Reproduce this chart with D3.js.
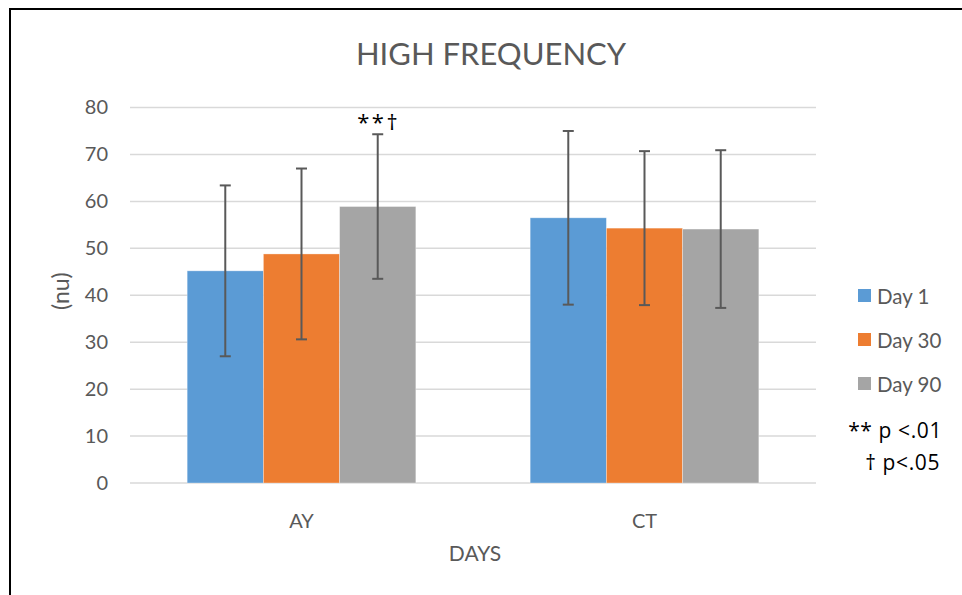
<!DOCTYPE html>
<html>
<head>
<meta charset="utf-8">
<script src="https://cdn.jsdelivr.net/npm/d3@7"></script>
<style>
  body { margin: 0; background: #fff; }
  text { font-family: Lato, "Open Sans", sans-serif; }
</style>
</head>
<body>
<div id="chart"></div>
<script>
const categories = ['AY', 'CT'];
const seriesNames = ['Day 1', 'Day 30', 'Day 90'];
const seriesColors = ['#5b9bd5', '#ed7d31', '#a5a5a5'];
// means per series, by category
const day1 = [45.2, 56.5];
const day30 = [48.8, 54.3];
const day90 = [58.9, 54.1];
// standard deviations (error bars)
const sd1 = [18.2, 18.5];
const sd30 = [18.2, 16.4];
const sd90 = [15.4, 16.8];
const yTicks = [0, 10, 20, 30, 40, 50, 60, 70, 80];

const means = [day1, day30, day90];
const sds = [sd1, sd30, sd90];

const W = 962, H = 595;
const margin = { top: 107.5, right: 146, bottom: 112, left: 130 };
const width = W - margin.left - margin.right;
const height = H - margin.top - margin.bottom;

const svg = d3.select('#chart').append('svg')
  .attr('width', W)
  .attr('height', H);

// outer frame (top and left edges visible)
svg.append('path')
  .attr('d', `M10,${H} L10,9 L${W},9`)
  .attr('fill', 'none')
  .attr('stroke', '#000')
  .attr('stroke-width', 2);

const g = svg.append('g')
  .attr('transform', `translate(${margin.left},${margin.top})`);

const x0 = d3.scaleBand()
  .domain(categories)
  .range([0, width]);

const x1 = d3.scaleBand()
  .domain(seriesNames)
  .range([0, x0.bandwidth() * 2 / 3]);

const y = d3.scaleLinear()
  .domain([0, 80])
  .range([height, 0]);

// gridlines
g.append('g')
  .selectAll('line')
  .data(yTicks)
  .enter()
  .append('line')
  .attr('x1', 0)
  .attr('x2', width)
  .attr('y1', (d) => y(d))
  .attr('y2', (d) => y(d))
  .attr('stroke', '#d9d9d9')
  .attr('stroke-width', 1.5);

// y axis labels
const yAxis = g.append('g')
  .call(d3.axisLeft(y).tickValues(yTicks).tickSize(0).tickPadding(22));
yAxis.select('.domain').remove();
yAxis.selectAll('text')
  .attr('fill', '#595959')
  .style('font-size', '20px')
  .style('font-family', 'Lato, "Open Sans", sans-serif');

// bars
const groups = g.selectAll('.serie')
  .data(seriesNames)
  .enter()
  .append('g')
  .attr('class', 'serie');

groups.selectAll('rect')
  .data((s, i) => categories.map((c, j) => ({ c, s, v: means[i][j], e: sds[i][j], color: seriesColors[i] })))
  .enter()
  .append('rect')
  .attr('x', (d) => x0(d.c) + x0.bandwidth() / 6 + x1(d.s))
  .attr('y', (d) => y(d.v))
  .attr('width', x1.bandwidth())
  .attr('height', (d) => y(0) - y(d.v))
  .attr('fill', (d) => d.color)
  .attr('stroke', '#fff')
  .attr('stroke-opacity', 0.4)
  .attr('stroke-width', 0.8);

// error bars
const errs = [];
seriesNames.forEach((s, i) => {
  categories.forEach((c, j) => {
    errs.push({ cx: x0(c) + x0.bandwidth() / 6 + x1(s) + x1.bandwidth() / 2, lo: means[i][j] - sds[i][j], hi: means[i][j] + sds[i][j] });
  });
});
const eb = g.append('g')
  .attr('stroke', '#595959')
  .attr('stroke-width', 2);
errs.forEach((d) => {
  eb.append('line').attr('x1', d.cx).attr('x2', d.cx).attr('y1', y(d.lo)).attr('y2', y(d.hi));
  eb.append('line').attr('x1', d.cx - 5.5).attr('x2', d.cx + 5.5).attr('y1', y(d.lo)).attr('y2', y(d.lo));
  eb.append('line').attr('x1', d.cx - 5.5).attr('x2', d.cx + 5.5).attr('y1', y(d.hi)).attr('y2', y(d.hi));
});

// significance marker above AY Day 90
const ayGray = errs[2 * categories.length + 0];
g.append('text')
  .attr('x', ayGray.cx + 1)
  .attr('y', y(ayGray.hi) - 4)
  .attr('text-anchor', 'middle')
  .attr('fill', '#000')
  .style('font-family', '"Open Sans", sans-serif')
  .style('font-size', '22px')
  .style('letter-spacing', '2.5px')
  .text('**†');

// category labels
g.selectAll('.cat')
  .data(categories)
  .enter()
  .append('text')
  .attr('x', (d) => x0(d) + x0.bandwidth() / 2)
  .attr('y', height + 45)
  .attr('text-anchor', 'middle')
  .attr('fill', '#595959')
  .style('font-size', '20px')
  .text((d) => d);

// axis titles
svg.append('text')
  .attr('x', margin.left + width / 2 + 2)
  .attr('y', 561)
  .attr('text-anchor', 'middle')
  .attr('fill', '#595959')
  .style('font-size', '21px')
  .text('DAYS');

svg.append('text')
  .attr('transform', `translate(69,${margin.top + height / 2 - 4}) rotate(-90)`)
  .attr('text-anchor', 'middle')
  .attr('fill', '#595959')
  .style('font-size', '23px')
  .text('(nu)');

svg.append('text')
  .attr('x', 491)
  .attr('y', 65)
  .attr('text-anchor', 'middle')
  .attr('fill', '#595959')
  .style('font-size', '31px')
  .text('HIGH FREQUENCY');

// legend
const legend = svg.append('g')
  .attr('transform', 'translate(858,0)');
seriesNames.forEach((s, i) => {
  const ly = 296 + i * 44;
  legend.append('rect')
    .attr('x', 0)
    .attr('y', ly - 7)
    .attr('width', 13)
    .attr('height', 13)
    .attr('fill', seriesColors[i]);
  legend.append('text')
    .attr('x', 19)
    .attr('y', ly + 7.5)
    .attr('fill', '#595959')
    .style('font-size', '20.5px')
    .text(s);
});

svg.append('text')
  .attr('x', 942)
  .attr('y', 438)
  .attr('text-anchor', 'end')
  .attr('fill', '#000')
  .style('font-family', '"Open Sans", sans-serif')
  .style('font-size', '21px')
  .style('letter-spacing', '0.6px')
  .text('** p <.01');

svg.append('text')
  .attr('x', 940)
  .attr('y', 470)
  .attr('text-anchor', 'end')
  .attr('fill', '#000')
  .style('font-family', '"Open Sans", sans-serif')
  .style('font-size', '21px')
  .style('letter-spacing', '0.6px')
  .text('† p<.05');
</script>
</body>
</html>
